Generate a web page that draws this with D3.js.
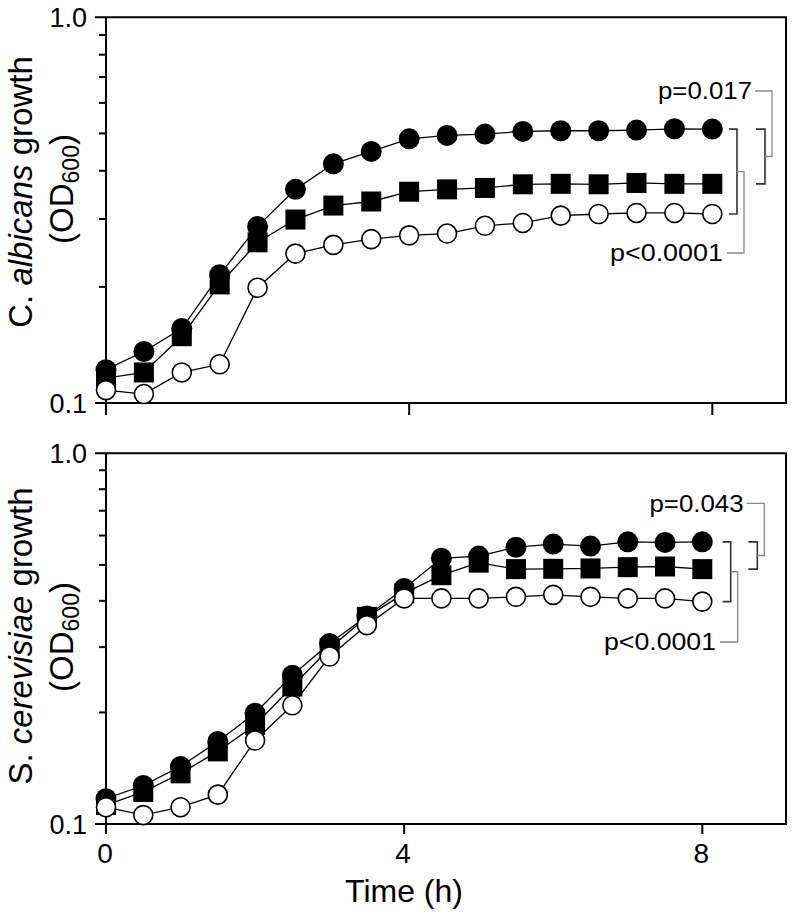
<!DOCTYPE html>
<html><head><meta charset="utf-8">
<script src="https://cdn.jsdelivr.net/npm/d3@7"></script>
<style>
html,body{margin:0;padding:0;background:#fff;}
svg{display:block;font-family:"Liberation Sans",Arial,Helvetica,sans-serif;}
</style></head>
<body><svg id="chart" width="793" height="916"></svg>
<script>
// ---- data ----
const time = [0,0.5,1,1.5,2,2.5,3,3.5,4,4.5,5,5.5,6,6.5,7,7.5,8];
const xTicks = [0,4,8];
const yMajor = [0.1,1.0];
const yMinor = [0.2,0.3,0.4,0.5,0.6,0.7,0.8,0.9];

const caFilled = [0.122,0.136,0.156,0.215,0.287,0.358,0.417,0.449,0.484,0.494,0.498,0.506,0.508,0.508,0.510,0.514,0.513];
const caSquare = [0.116,0.120,0.149,0.203,0.261,0.299,0.325,0.333,0.353,0.358,0.361,0.369,0.370,0.369,0.372,0.370,0.370];
const caOpen   = [0.108,0.1055,0.120,0.126,0.199,0.244,0.257,0.266,0.272,0.275,0.288,0.293,0.306,0.309,0.311,0.311,0.309];

const scFilled = [0.117,0.127,0.143,0.167,0.199,0.252,0.307,0.364,0.432,0.521,0.528,0.558,0.569,0.562,0.577,0.575,0.577];
const scSquare = [0.1125,0.122,0.137,0.157,0.185,0.235,0.298,0.362,0.419,0.469,0.507,0.487,0.488,0.489,0.493,0.495,0.487];
const scOpen   = [0.111,0.1057,0.111,0.120,0.168,0.209,0.283,0.344,0.406,0.406,0.406,0.410,0.415,0.410,0.406,0.406,0.398];

const pTop = ["p=0.017","p<0.0001"];
const pBottom = ["p=0.043","p<0.0001"];
const xTitle = "Time (h)";

// ---- drawing ----
const svg = d3.select("#chart");
const FONT = '"Liberation Sans",Arial,Helvetica,sans-serif';

function panel(cfg){
  const g = svg.append("g");
  const x = d3.scaleLinear().domain([0,8]).range([106, cfg.x8]);
  const y = d3.scaleLog().domain([0.1,1]).range([cfg.yBot, cfg.yTop]);
  const right = 786;

  // frame (top, right, bottom)
  g.append("path")
    .attr("d", `M${x(0)-11},${y(1)}H${right}V${y(0.1)}H${x(0)-11}`)
    .attr("fill","none").attr("stroke","#000").attr("stroke-width",2);
  // y axis line
  g.append("line").attr("x1",x(0)).attr("x2",x(0)).attr("y1",y(1)).attr("y2",y(0.1))
    .attr("stroke","#000").attr("stroke-width",2);
  // minor y ticks
  g.selectAll(".ymin").data(yMinor).join("line")
    .attr("x1",x(0)-7).attr("x2",x(0)).attr("y1",d=>y(d)).attr("y2",d=>y(d))
    .attr("stroke","#000").attr("stroke-width",2);
  // y labels
  g.selectAll(".ylab").data(yMajor).join("text")
    .attr("x",87).attr("y",d=>y(d)).attr("dy","0.36em")
    .attr("text-anchor","end").attr("font-size",27).text(d=>d.toFixed(1));
  // x ticks
  g.selectAll(".xt").data(xTicks).join("line")
    .attr("x1",d=>x(d)).attr("x2",d=>x(d)).attr("y1",y(0.1)).attr("y2",y(0.1)+cfg.tickLen)
    .attr("stroke","#000").attr("stroke-width",2);
  if(cfg.xLabels){
    g.selectAll(".xl").data(xTicks).join("text")
      .attr("x",d=>x(d)-1).attr("y",y(0.1)+39)
      .attr("text-anchor","middle").attr("font-size",28).text(d=>d);
    g.append("text").attr("x",404).attr("y",902).attr("text-anchor","middle")
      .attr("font-size",32).text(xTitle);
  }

  // y title
  const t1 = g.append("text")
    .attr("transform",`translate(32,${cfg.t1c}) rotate(-90)`)
    .attr("text-anchor","middle").attr("font-size",33);
  t1.append("tspan").text(cfg.t1[0]);
  t1.append("tspan").attr("font-style","italic").text(cfg.t1[1]);
  t1.append("tspan").text(cfg.t1[2]);
  const t2 = g.append("text")
    .attr("transform",`translate(73,${cfg.t2c}) rotate(-90)`)
    .attr("text-anchor","middle").attr("font-size",33);
  t2.append("tspan").text("(OD");
  t2.append("tspan").attr("font-size",23).attr("dy",6).text("600");
  t2.append("tspan").attr("dy",-6).text(")");

  // series
  const line = d3.line().x((d,i)=>x(time[i])).y(d=>y(d));
  [cfg.open, cfg.square, cfg.filled].forEach(s=>{
    g.append("path").attr("d",line(s)).attr("fill","none")
      .attr("stroke","#000").attr("stroke-width",1.3);
  });
  g.selectAll(".sq").data(cfg.square).join("rect")
    .attr("x",(d,i)=>x(time[i])-10).attr("y",d=>y(d)-10)
    .attr("width",20).attr("height",20).attr("fill","#000");
  g.selectAll(".fc").data(cfg.filled).join("circle")
    .attr("cx",(d,i)=>x(time[i])).attr("cy",d=>y(d)).attr("r",10.5).attr("fill","#000");
  g.selectAll(".oc").data(cfg.open).join("circle")
    .attr("cx",(d,i)=>x(time[i])).attr("cy",d=>y(d)).attr("r",9.5)
    .attr("fill","#fff").attr("stroke","#000").attr("stroke-width",1.6);

  // significance brackets
  const last = time.length-1;
  const yF = y(cfg.filled[last]), yS = y(cfg.square[last]), yO = y(cfg.open[last]);
  const b1 = cfg.b1, b2 = cfg.b2;
  g.append("path").attr("d",`M${b1-8},${yF}H${b1}V${yO}H${b1-8}`)
    .attr("fill","none").attr("stroke","#333").attr("stroke-width",1.6);
  g.append("path").attr("d",`M${b2-9},${yF}H${b2}V${yS}H${b2-9}`)
    .attr("fill","none").attr("stroke","#333").attr("stroke-width",1.6);
  g.append("path").attr("d",`M${b1},${(yF+yO)/2}H${b1+7}V${cfg.pLowY}H${cfg.pLowX+4}`)
    .attr("fill","none").attr("stroke","#888").attr("stroke-width",1.3);
  g.append("path").attr("d",`M${b2},${(yF+yS)/2}H${b2+7}V${cfg.pHighY}H${cfg.pHighX+3}`)
    .attr("fill","none").attr("stroke","#888").attr("stroke-width",1.3);
  g.append("text").attr("x",cfg.pHighX).attr("y",cfg.pHighY).attr("dy","0.35em")
    .attr("text-anchor","end").attr("font-size",24)
    .attr("textLength",cfg.pHighW).attr("lengthAdjust","spacingAndGlyphs").text(cfg.p[0]);
  g.append("text").attr("x",cfg.pLowX).attr("y",cfg.pLowY).attr("dy","0.35em")
    .attr("text-anchor","end").attr("font-size",24)
    .attr("textLength",cfg.pLowW).attr("lengthAdjust","spacingAndGlyphs").text(cfg.p[1]);
}

panel({x8:712.3, yTop:17.3, yBot:403, tickLen:12, xLabels:false,
  filled:caFilled, square:caSquare, open:caOpen,
  t1:["C. ","albicans"," growth"], t1c:192, t2c:189,
  b1:737, b2:765, pHighX:752, pHighY:91, pHighW:94, pLowX:723, pLowY:253, pLowW:113, p:pTop});

panel({x8:702.3, yTop:453.3, yBot:824, tickLen:10, xLabels:true,
  filled:scFilled, square:scSquare, open:scOpen,
  t1:["S. ","cerevisiae"," growth"], t1c:636, t2c:637,
  b1:730.7, b2:757.3, pHighX:743.5, pHighY:503.3, pHighW:94, pLowX:716, pLowY:642, pLowW:112, p:pBottom});
</script>
</body></html>
